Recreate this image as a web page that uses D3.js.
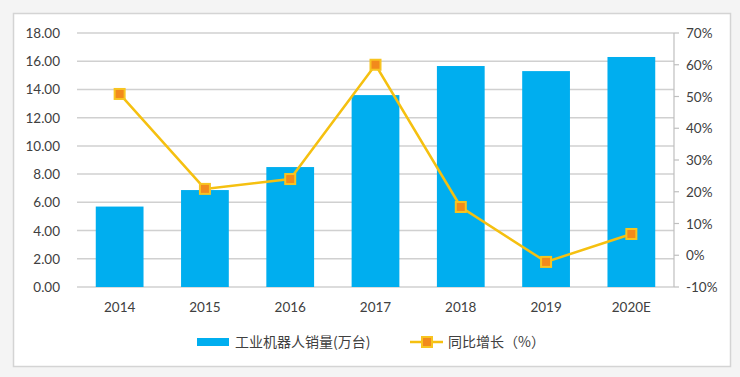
<html>
<head>
<meta charset="utf-8">
<style>
  body { margin: 0; background: #f4f4f4; }
  text { font-family: Lato, "Open Sans", sans-serif; fill: #404040; }
</style>
</head>
<body>
<svg id="container" width="740" height="377"></svg>
<script src="https://cdn.jsdelivr.net/npm/d3@7"></script>
<script>
  // data
  let years = ["2014", "2015", "2016", "2017", "2018", "2019", "2020E"]
  let sales = [5.7, 6.87, 8.5, 13.6, 15.66, 15.3, 16.3]      // 万台
  let growth = [50.8, 20.9, 24.0, 60.0, 15.2, -2.1, 6.7]     // %
  let leftTicks = [0, 2, 4, 6, 8, 10, 12, 14, 16, 18]
  let rightTicks = [-10, 0, 10, 20, 30, 40, 50, 60, 70]
  let barName = "工业机器人销量(万台)"
  let lineName = "同比增长（%）"

  let svg = d3.select("#container")

  // white chart box
  svg.append("rect")
    .attr("x", 13.5).attr("y", 13.5)
    .attr("width", 717).attr("height", 353)
    .attr("fill", "white").attr("stroke", "#d4d4d4").attr("stroke-width", 1.5)

  let plotL = 77, plotR = 674, plotT = 33, plotB = 287

  let x = d3.scaleBand().domain(years).range([plotL, plotR]).paddingInner(0.44).paddingOuter(0.22)
  let yL = d3.scaleLinear().domain([0, 18]).range([plotB, plotT])
  let yR = d3.scaleLinear().domain([-10, 70]).range([plotB, plotT])

  // gridlines
  svg.append("g").selectAll("line").data(leftTicks).enter().append("line")
    .attr("x1", plotL).attr("x2", plotR)
    .attr("y1", d => yL(d)).attr("y2", d => yL(d))
    .attr("stroke", "#d0d0d0").attr("stroke-width", 1.5)

  // left axis labels
  svg.append("g").selectAll("text").data(leftTicks).enter().append("text")
    .attr("x", 60).attr("y", d => yL(d) + 5)
    .attr("text-anchor", "end").attr("font-size", 13.5)
    .text(d => d3.format(".2f")(d))

  // right axis
  let ra = svg.append("g")
  ra.append("line").attr("x1", plotR).attr("x2", plotR).attr("y1", plotT).attr("y2", plotB)
    .attr("stroke", "#bfbfbf").attr("stroke-width", 1.2)
  ra.selectAll("line.tk").data(rightTicks).enter().append("line").attr("class", "tk")
    .attr("x1", plotR).attr("x2", plotR + 5)
    .attr("y1", d => yR(d)).attr("y2", d => yR(d))
    .attr("stroke", "#bfbfbf").attr("stroke-width", 1.2)
  ra.selectAll("text").data(rightTicks).enter().append("text")
    .attr("x", 686).attr("y", d => yR(d) + 5)
    .attr("font-size", 13.5)
    .text(d => d + "%")

  // bars
  svg.append("g").selectAll("rect").data(years).enter().append("rect")
    .attr("x", d => x(d))
    .attr("width", x.bandwidth())
    .attr("y", (d, i) => yL(sales[i]))
    .attr("height", (d, i) => yL(0) - yL(sales[i]))
    .attr("fill", "#00aeef")

  // x labels
  svg.append("g").selectAll("text").data(years).enter().append("text")
    .attr("x", d => x(d) + x.bandwidth() / 2).attr("y", 312)
    .attr("text-anchor", "middle").attr("font-size", 13.5)
    .text(d => d)

  // growth line
  let line = d3.line()
    .x((d, i) => x(years[i]) + x.bandwidth() / 2)
    .y(d => yR(d))
  svg.append("path").datum(growth)
    .attr("d", line)
    .attr("fill", "none").attr("stroke", "#f5c010").attr("stroke-width", 2.5)

  svg.append("g").selectAll("rect").data(growth).enter().append("rect")
    .attr("x", (d, i) => x(years[i]) + x.bandwidth() / 2 - 5)
    .attr("y", d => yR(d) - 5)
    .attr("width", 10).attr("height", 10)
    .attr("fill", "#f28a1c").attr("stroke", "#f8c420").attr("stroke-width", 2)

  // legend
  let lg = svg.append("g")
  lg.append("rect").attr("x", 197).attr("y", 338).attr("width", 32).attr("height", 8)
    .attr("fill", "#00aeef")
  lg.append("text").attr("x", 235).attr("y", 347).attr("font-size", 14)
    .style("font-family", "'Noto Sans CJK SC'").text(barName)
  lg.append("line").attr("x1", 410).attr("x2", 443).attr("y1", 342).attr("y2", 342)
    .attr("stroke", "#f5c010").attr("stroke-width", 2.5)
  lg.append("rect").attr("x", 422).attr("y", 337).attr("width", 10).attr("height", 10)
    .attr("fill", "#f28a1c").attr("stroke", "#f8c420").attr("stroke-width", 2)
  lg.append("text").attr("x", 448).attr("y", 347).attr("font-size", 14)
    .style("font-family", "'Noto Sans CJK SC'").text(lineName)
</script>
</body>
</html>
